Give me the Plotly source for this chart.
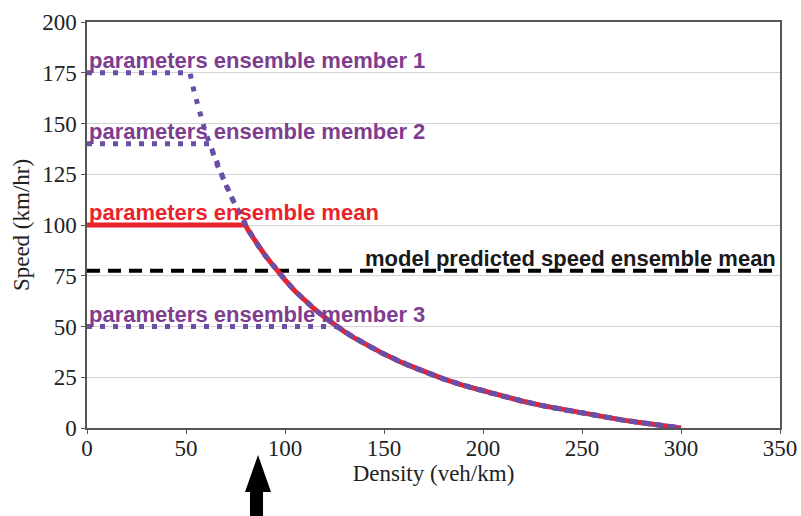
import plotly.graph_objects as go

# Shared congested branch: density (veh/km) vs speed (km/hr)
tail_density = [80, 82, 84, 86, 88, 90, 93, 96, 100, 105, 110, 115, 120, 126, 130, 135, 140, 145, 150,
                160, 170, 180, 190, 200, 210, 220, 230, 240, 250, 260, 270, 280, 290, 300]
tail_speed = [100, 96.5, 93.5, 90.5, 87.5, 85, 81.3, 77.6, 73, 67.5, 62.7, 58.5, 54.5, 50, 47.5, 44.4, 41.5, 38.9, 36.4,
              31.8, 27.8, 24.2, 21, 18.2, 15.6, 13.2, 11, 9.1, 7.3, 5.6, 4, 2.6, 1.3, 0]

# Free-flow parts of each ensemble member
m1_density = [0, 52, 54, 56, 58, 60, 63, 66, 70, 75]
m1_speed = [175, 175, 166, 158, 152, 145, 137, 129, 120, 109.5]
m2_density = [0, 62, 66, 70, 75]
m2_speed = [140, 140, 129, 120, 109.5]
m3_density = [0]
m3_speed = [50]
mean_density = [0]
mean_speed = [100]

model_mean_speed = 77.5
x_range = [0, 350]
y_range = [0, 200]
x_ticks = [0, 50, 100, 150, 200, 250, 300, 350]
y_ticks = [0, 25, 50, 75, 100, 125, 150, 175, 200]

RED = "#E8232B"
PURPLE_LINE = "#6B4EA6"
PURPLE_TEXT = "#7E3D8F"

# member 3 joins the congested branch at density 126
m3_start = tail_density.index(126)

fig = go.Figure()
fig.add_trace(go.Scatter(x=x_range, y=[model_mean_speed] * 2, mode="lines",
                         line=dict(color="black", width=4, dash="13px,8px")))
fig.add_trace(go.Scatter(x=mean_density + tail_density, y=mean_speed + tail_speed, mode="lines",
                         line=dict(color=RED, width=5)))
for dx, sy in [(m1_density + tail_density, m1_speed + tail_speed),
               (m2_density + tail_density, m2_speed + tail_speed),
               (m3_density + tail_density[m3_start:], m3_speed + tail_speed[m3_start:])]:
    fig.add_trace(go.Scatter(x=dx, y=sy, mode="lines",
                             line=dict(color=PURPLE_LINE, width=5, dash="5px,8px")))

labels = [
    ("parameters ensemble member 1", 175, PURPLE_TEXT),
    ("parameters ensemble member 2", 140, PURPLE_TEXT),
    ("parameters ensemble mean", 100, RED),
    ("parameters ensemble member 3", 50, PURPLE_TEXT),
]
for txt, yv, col in labels:
    fig.add_annotation(x=0, y=yv, xref="x", yref="y", text=txt, showarrow=False,
                       xanchor="left", yanchor="bottom", xshift=0, yshift=-2,
                       font=dict(family="Liberation Sans", size=22, color=col, weight="bold"))
fig.add_annotation(x=350, y=model_mean_speed, xref="x", yref="y",
                   text="model predicted speed ensemble mean", showarrow=False,
                   xanchor="right", yanchor="bottom", xshift=-2, yshift=-2,
                   font=dict(family="Liberation Sans", size=22, color="#1a1a1a", weight="bold"))

# Arrow below the x axis
fig.add_shape(type="path", xref="paper", yref="paper",
              path="M 0.2468 -0.0665 L 0.2655 -0.1576 L 0.2540 -0.1576 L 0.2540 -0.2200 "
                   "L 0.2352 -0.2200 L 0.2352 -0.1576 L 0.2280 -0.1576 Z",
              fillcolor="black", line=dict(width=0))

axis_font = dict(family="Liberation Serif", size=23, color="#222")
fig.update_layout(
    width=801, height=516, showlegend=False,
    margin=dict(l=87, r=21, t=22, b=88),
    plot_bgcolor="white", paper_bgcolor="white",
    xaxis=dict(range=x_range, tickvals=x_ticks, showgrid=False, zeroline=False, automargin=False,
               showline=True, linecolor="#555", linewidth=1.5, mirror=True,
               ticks="outside", ticklen=4, tickcolor="#555", tickfont=axis_font,
               ticklabelstandoff=-5,
               title=dict(text="Density (veh/km)", font=axis_font, standoff=2)),
    yaxis=dict(range=y_range, tickvals=y_ticks, showgrid=True, gridcolor="#d4d4d4",
               gridwidth=1, zeroline=False, automargin=False,
               showline=True, linecolor="#555", linewidth=1.5, mirror=True,
               ticks="outside", ticklen=4, tickcolor="#555", tickfont=axis_font,
               title=dict(text="Speed (km/hr)", font=axis_font, standoff=6)),
)
fig.write_html("out.html")
